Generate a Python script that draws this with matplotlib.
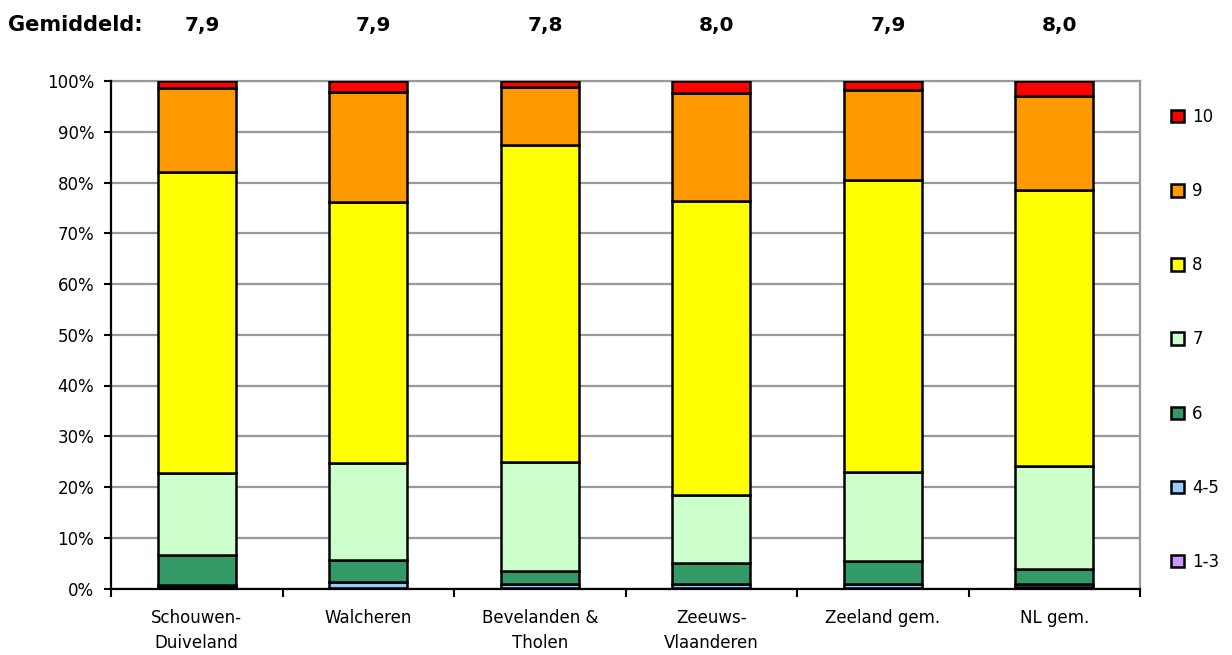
import numpy as np
import matplotlib
matplotlib.use("Agg")
import matplotlib.pyplot as plt
from matplotlib.patches import Patch
import matplotlib.transforms as mtransforms

plt.rcParams['font.family'] = ['DejaVu Sans']

gebieden = ["Schouwen-\nDuiveland", "Walcheren", "Bevelanden &\nTholen",
            "Zeeuws-\nVlaanderen", "Zeeland gem.", "NL gem."]
gemiddeld = ["7,9", "7,9", "7,8", "8,0", "7,9", "8,0"]

# aandeel per cijfer (%), van laag naar hoog
cijfer_1_3 = [0.2, 0.1, 0.1, 0.1, 0.1, 0.2]
cijfer_4_5 = [0.4, 1.1, 0.8, 0.8, 0.8, 0.6]
cijfer_6 = [6.0, 4.4, 2.5, 4.2, 4.6, 3.1]
cijfer_7 = [16.1, 19.1, 21.5, 13.3, 17.5, 20.2]
cijfer_8 = [59.4, 51.5, 62.5, 57.9, 57.5, 54.4]
cijfer_9 = [16.6, 21.6, 11.4, 21.3, 17.7, 18.6]
cijfer_10 = [1.3, 2.2, 1.2, 2.4, 1.8, 2.9]

reeksen = [cijfer_1_3, cijfer_4_5, cijfer_6, cijfer_7, cijfer_8, cijfer_9, cijfer_10]
labels = ["1-3", "4-5", "6", "7", "8", "9", "10"]
kleuren = ["#CC99FF", "#99CCFF", "#339966", "#CCFFCC", "#FFFF00", "#FF9900", "#FF0000"]

fig = plt.figure(figsize=(12.32, 6.55), dpi=100)
ax = fig.add_axes([111/1232, 66.5/655, 1029/1232, 507.5/655])

x = np.arange(len(gebieden))
bottom = np.zeros(len(gebieden))
for waarden, kleur, lab in zip(reeksen, kleuren, labels):
    ax.bar(x, waarden, 0.455, bottom=bottom, color=kleur, edgecolor="black",
           linewidth=1.8, label=lab, zorder=3)
    bottom += np.array(waarden)

ax.set_xlim(-0.5, len(gebieden) - 0.5)
ax.set_ylim(0, 100)
ax.set_yticks(np.arange(0, 101, 10))
ax.set_yticklabels([f"{v}%" for v in range(0, 101, 10)], fontsize=12)
ax.set_xticks(x)
ax.set_xticklabels(gebieden, fontsize=12, linespacing=1.45, va="top")
ax.tick_params(axis="x", length=0, pad=15)
ax.set_xticks(np.arange(-0.5, len(gebieden)), minor=True)
ax.tick_params(axis="x", which="minor", length=6, width=1.5, color="black")
ax.tick_params(axis="y", length=5, width=1.5, pad=7)
ax.yaxis.grid(True, color="#999999", linewidth=1.6, zorder=0)

for s in ["top", "right"]:
    ax.spines[s].set_color("#999999")
    ax.spines[s].set_linewidth(1.6)
for s in ["left", "bottom"]:
    ax.spines[s].set_linewidth(1.6)
    ax.spines[s].set_zorder(4)

# legenda
handles = [Patch(facecolor=k, edgecolor="black", linewidth=1.8) for k in kleuren][::-1]
leg = fig.legend(handles, labels[::-1], loc="upper left",
                 bbox_to_anchor=(1171/1232, 1 - 108/655), frameon=False,
                 fontsize=12, handlelength=0.78, handleheight=0.78,
                 handletextpad=0.5, labelspacing=3.37, borderaxespad=0,
                 borderpad=0)

# gemiddelde cijfers boven de staven
fig.text(8/1232, 1 - 25/655, "Gemiddeld:", fontsize=15, fontweight="bold", va="center", ha="left")
trans = mtransforms.blended_transform_factory(ax.transData, fig.transFigure)
for i, g in enumerate(gemiddeld):
    ax.text(x[i] + 0.03, 1 - 25/655, g, transform=trans, fontsize=14.5,
            fontweight="bold", va="center", ha="center")

fig.savefig("out.png", dpi=100)
